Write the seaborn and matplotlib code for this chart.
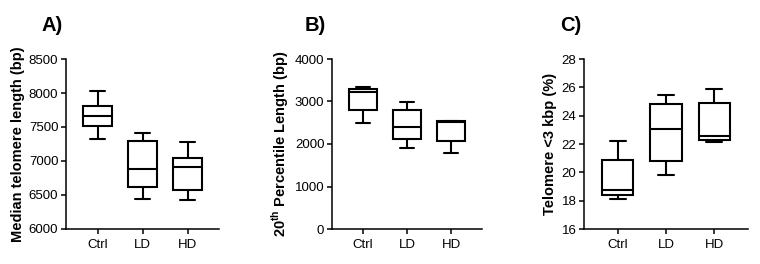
import numpy as np
import pandas as pd
import seaborn as sns
import matplotlib
matplotlib.use("Agg")
import matplotlib.pyplot as plt

# groups on the x axis
groups = ["Ctrl", "LD", "HD"]

# five-number summaries: min, q1, median, q3, max
median_len = {
    "Ctrl": [7319, 7515, 7667, 7804, 8034],
    "LD": [6441, 6613, 6877, 7289, 7412],
    "HD": [6422, 6569, 6912, 7049, 7279],
}
pct20_len = {
    "Ctrl": [2498, 2797, 3221, 3299, 3331],
    "LD": [1917, 2113, 2396, 2805, 2993],
    "HD": [1783, 2074, 2506, 2537, 2537],
}
short_tel = {
    "Ctrl": [18.11, 18.43, 18.73, 20.90, 22.20],
    "LD": [19.83, 20.82, 23.09, 24.83, 25.47],
    "HD": [22.17, 22.28, 22.58, 24.87, 25.90],
}


def to_long(d):
    rows = []
    for g in groups:
        for v in d[g]:
            rows.append({"group": g, "value": v})
    return pd.DataFrame(rows)


sns.set_style("ticks")
plt.rcParams["font.family"] = ["Liberation Sans", "DejaVu Sans"]
plt.rcParams["mathtext.fontset"] = "custom"
plt.rcParams["mathtext.rm"] = "Liberation Sans"
plt.rcParams["mathtext.bf"] = "Liberation Sans:bold"
plt.rcParams["text.color"] = "black"
plt.rcParams["axes.labelcolor"] = "black"
plt.rcParams["xtick.color"] = "black"
plt.rcParams["ytick.color"] = "black"

fig = plt.figure(figsize=(7.6, 2.64), dpi=100)

panels = [
    (median_len, "Median telomere length (bp)", (6000, 8500), np.arange(6000, 8501, 500),
     [66 / 760, 35 / 264, 153 / 760, 170 / 264], "A)", 42 / 760),
    (pct20_len, r"20$^{\mathbf{th}}$ Percentile Length (bp)", (0, 4000), np.arange(0, 4001, 1000),
     [332 / 760, 35 / 264, 150 / 760, 170 / 264], "B)", 305 / 760),
    (short_tel, "Telomere <3 kbp (%)", (16, 28), np.arange(16, 29, 2),
     [584 / 760, 35 / 264, 164 / 760, 170 / 264], "C)", 560 / 760),
]

for data, ylabel, ylim, yticks, pos, letter, lx in panels:
    ax = fig.add_axes(pos)
    df = to_long(data)
    sns.boxplot(data=df, x="group", y="value", order=groups, ax=ax,
                color="white", linecolor="black", linewidth=1.5,
                width=0.65, whis=np.inf, showfliers=False)
    ax.set_xlim(-0.7, 2.7)
    ax.set_ylim(*ylim)
    ax.set_yticks(yticks)
    ax.set_xlabel("")
    ax.set_ylabel(ylabel, fontsize=10.5, fontweight="bold", labelpad=3)
    ax.tick_params(axis="both", labelsize=9.5, length=3.5, width=1.1,
                   color="black", labelcolor="black", pad=2)
    ax.tick_params(axis="x", pad=4)
    for side in ["top", "right"]:
        ax.spines[side].set_visible(False)
    for side in ["left", "bottom"]:
        ax.spines[side].set_linewidth(1.1)
        ax.spines[side].set_color("black")
    fig.text(lx, 0.905, letter, fontsize=14.5, fontweight="bold", va="center", ha="left")

fig.savefig("out.png", dpi=100)
